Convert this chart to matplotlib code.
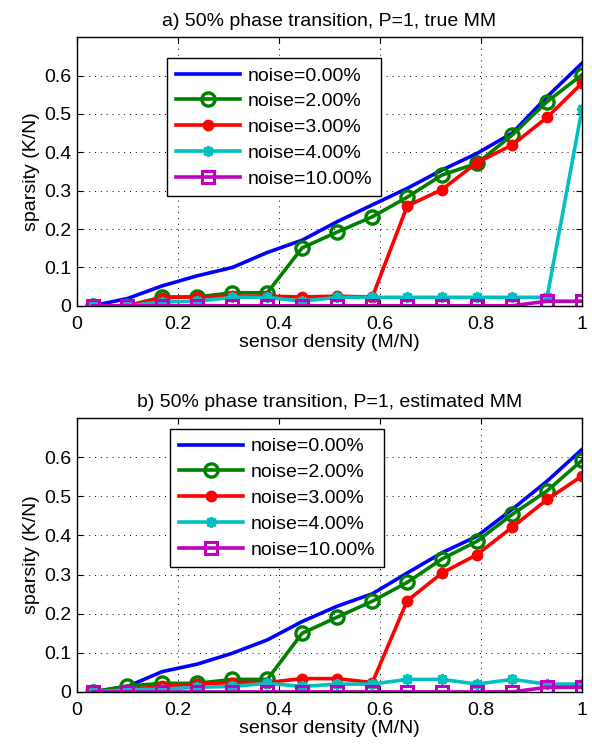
import matplotlib
matplotlib.use("Agg")
import matplotlib.pyplot as plt

plt.rcParams['font.family'] = ['Liberation Sans', 'DejaVu Sans']

x = [0.031, 0.100, 0.169, 0.238, 0.308, 0.377, 0.446, 0.515, 0.585, 0.654,
     0.723, 0.792, 0.862, 0.931, 1.000]

labels = ['noise=0.00%', 'noise=2.00%', 'noise=3.00%', 'noise=4.00%', 'noise=10.00%']

# panel a) true MM
a_n0 = [0.0, 0.019, 0.052, 0.078, 0.100, 0.139, 0.171, 0.219, 0.263, 0.306, 0.354, 0.397, 0.450, 0.545, 0.632]
a_n2 = [0.0, 0.0, 0.023, 0.023, 0.034, 0.034, 0.151, 0.192, 0.232, 0.283, 0.341, 0.371, 0.445, 0.532, 0.602]
a_n3 = [0.0, 0.0, 0.021, 0.023, 0.025, 0.025, 0.023, 0.025, 0.023, 0.260, 0.303, 0.373, 0.419, 0.491, 0.580]
a_n4 = [0.0, 0.0, 0.010, 0.012, 0.022, 0.022, 0.012, 0.022, 0.022, 0.022, 0.022, 0.022, 0.022, 0.022, 0.512]
a_n10 = [0.0, 0.0, 0.0, 0.0, 0.0, 0.0, 0.0, 0.0, 0.0, 0.0, 0.0, 0.0, 0.0, 0.012, 0.012]

# panel b) estimated MM
b_n0 = [0.0, 0.014, 0.052, 0.071, 0.099, 0.133, 0.180, 0.219, 0.251, 0.304, 0.356, 0.398, 0.467, 0.539, 0.620]
b_n2 = [0.0, 0.015, 0.022, 0.022, 0.032, 0.032, 0.150, 0.191, 0.232, 0.280, 0.340, 0.385, 0.454, 0.514, 0.592]
b_n3 = [0.0, 0.005, 0.015, 0.020, 0.024, 0.024, 0.034, 0.034, 0.024, 0.233, 0.304, 0.351, 0.421, 0.492, 0.552]
b_n4 = [0.0, 0.005, 0.007, 0.012, 0.014, 0.022, 0.014, 0.020, 0.020, 0.032, 0.032, 0.020, 0.032, 0.020, 0.020]
b_n10 = [0.0, 0.0, 0.0, 0.0, 0.0, 0.0, 0.0, 0.0, 0.0, 0.0, 0.0, 0.0, 0.0, 0.012, 0.012]

titles = ['a) 50% phase transition, P=1, true MM',
          'b) 50% phase transition, P=1, estimated MM']
xticks = [0, 0.2, 0.4, 0.6, 0.8, 1]
xticklabels = ['0', '0.2', '0.4', '0.6', '0.8', '1']
yticks = [0, 0.1, 0.2, 0.3, 0.4, 0.5, 0.6]
yticklabels = ['0', '0.1', '0.2', '0.3', '0.4', '0.5', '0.6']

fig = plt.figure(figsize=(5.92, 7.44), dpi=100)
ax1 = fig.add_axes([0.130, 0.589, 0.853, 0.361])
ax2 = fig.add_axes([0.130, 0.070, 0.853, 0.368])

fs = 14
lw = 2.6
styles = [
    dict(color='#0000ff', linestyle='-', marker=None),
    dict(color='#008000', marker='o', markersize=9.5, markerfacecolor='none', markeredgewidth=2.4),
    dict(color='#ff0000', marker='o', markersize=7.5, markerfacecolor='#ff0000', markeredgewidth=1),
    dict(color='#00c0c0', marker=(8, 2, 0), markersize=8, markeredgewidth=2.0),
    dict(color='#c000c0', marker='s', markersize=9, markerfacecolor='none', markeredgewidth=2.2),
]

for ax, series, title, leg_pos in [
        (ax1, [a_n0, a_n2, a_n3, a_n4, a_n10], titles[0], (0.178, 0.922)),
        (ax2, [b_n0, b_n2, b_n3, b_n4, b_n10], titles[1], (0.184, 0.96))]:
    for s, lab, st in zip(series, labels, styles):
        ax.plot(x, s, linewidth=lw, label=lab, **st)
    ax.set_xlim(0, 1)
    ax.set_ylim(0, 0.7)
    ax.set_xticks(xticks)
    ax.set_xticklabels(xticklabels)
    ax.set_yticks(yticks)
    ax.set_yticklabels(yticklabels)
    ax.tick_params(direction='in', top=True, right=True, labelsize=fs, length=4)
    ax.tick_params(axis='x', pad=7)
    ax.tick_params(axis='y', pad=4)
    ax.grid(True, color='black', linestyle=(0, (1, 5)), linewidth=0.7)
    for sp in ax.spines.values():
        sp.set_linewidth(1.0)
    ax.set_title(title, fontsize=fs, pad=8)
    ax.set_xlabel('sensor density (M/N)', fontsize=fs, labelpad=1)
    ax.set_ylabel('sparsity (K/N)', fontsize=fs, labelpad=3)
    leg = ax.legend(loc='upper left', bbox_to_anchor=leg_pos, fontsize=fs,
                    frameon=True, fancybox=False, framealpha=1, edgecolor='black',
                    handlelength=3.3, handletextpad=0.4, labelspacing=0.42,
                    borderpad=0.45, borderaxespad=0)
    leg.get_frame().set_linewidth(1.0)

fig.savefig('out.png', dpi=100)
